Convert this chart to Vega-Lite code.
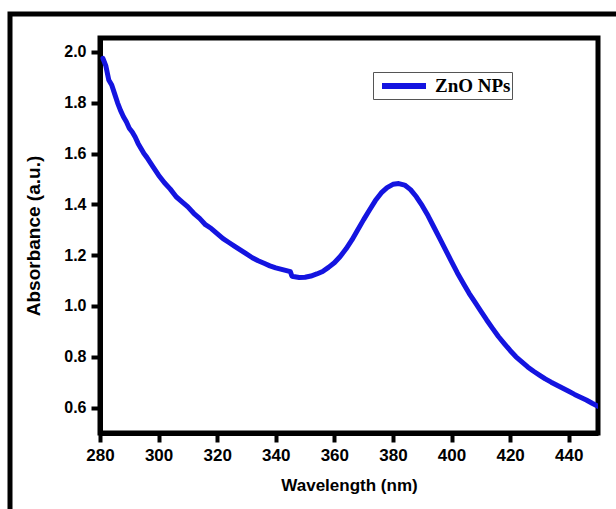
{
  "$schema": "https://vega.github.io/schema/vega-lite/v6.json",
  "autosize": "none",
  "width": 498,
  "height": 395,
  "padding": {"left": 100, "top": 38, "right": 18, "bottom": 76},
  "background": "white",
  "view": {"stroke": "black", "strokeWidth": 5, "fill": "white"},
  "config": {
    "view": {"stroke": "black", "strokeWidth": 5},
    "axis": {
      "grid": false,
      "domainColor": "black",
      "domainWidth": 5,
      "tickColor": "black",
      "tickWidth": 4,
      "tickSize": 9,
      "labelFlush": false,
      "labelFont": "Liberation Sans",
      "labelFontWeight": "bold",
      "labelFontSize": 16,
      "labelColor": "black",
      "titleFont": "Liberation Sans",
      "titleFontWeight": "bold",
      "titleFontSize": 17,
      "titleColor": "black"
    }
  },
  "layer": [
    {
      "data": {"values": [{"frame": "outer"}]},
      "mark": {"type": "rect", "fillOpacity": 0, "stroke": "black", "strokeWidth": 5, "clip": false},
      "encoding": {
        "x": {"value": -90},
        "x2": {"value": 540},
        "y": {"value": -24},
        "y2": {"value": 490}
      }
    },
    {
      "data": {
        "values": [
          {"s": "ZnO NPs", "wl": 281, "abs": 1.975}, {"s": "ZnO NPs", "wl": 282, "abs": 1.945}, {"s": "ZnO NPs", "wl": 283, "abs": 1.89},
          {"s": "ZnO NPs", "wl": 284, "abs": 1.87}, {"s": "ZnO NPs", "wl": 285, "abs": 1.835}, {"s": "ZnO NPs", "wl": 286, "abs": 1.8},
          {"s": "ZnO NPs", "wl": 287, "abs": 1.77}, {"s": "ZnO NPs", "wl": 288, "abs": 1.745}, {"s": "ZnO NPs", "wl": 289, "abs": 1.725},
          {"s": "ZnO NPs", "wl": 290, "abs": 1.7}, {"s": "ZnO NPs", "wl": 291, "abs": 1.685}, {"s": "ZnO NPs", "wl": 292, "abs": 1.665},
          {"s": "ZnO NPs", "wl": 293, "abs": 1.64}, {"s": "ZnO NPs", "wl": 294, "abs": 1.62}, {"s": "ZnO NPs", "wl": 295, "abs": 1.6},
          {"s": "ZnO NPs", "wl": 296, "abs": 1.585}, {"s": "ZnO NPs", "wl": 298, "abs": 1.55}, {"s": "ZnO NPs", "wl": 300, "abs": 1.515},
          {"s": "ZnO NPs", "wl": 302, "abs": 1.485}, {"s": "ZnO NPs", "wl": 304, "abs": 1.46}, {"s": "ZnO NPs", "wl": 306, "abs": 1.43},
          {"s": "ZnO NPs", "wl": 308, "abs": 1.41}, {"s": "ZnO NPs", "wl": 310, "abs": 1.39}, {"s": "ZnO NPs", "wl": 312, "abs": 1.365},
          {"s": "ZnO NPs", "wl": 314, "abs": 1.345}, {"s": "ZnO NPs", "wl": 316, "abs": 1.32}, {"s": "ZnO NPs", "wl": 318, "abs": 1.305},
          {"s": "ZnO NPs", "wl": 320, "abs": 1.285}, {"s": "ZnO NPs", "wl": 322, "abs": 1.265}, {"s": "ZnO NPs", "wl": 324, "abs": 1.25},
          {"s": "ZnO NPs", "wl": 326, "abs": 1.235}, {"s": "ZnO NPs", "wl": 328, "abs": 1.22}, {"s": "ZnO NPs", "wl": 330, "abs": 1.205},
          {"s": "ZnO NPs", "wl": 332, "abs": 1.19}, {"s": "ZnO NPs", "wl": 334, "abs": 1.178}, {"s": "ZnO NPs", "wl": 336, "abs": 1.168},
          {"s": "ZnO NPs", "wl": 338, "abs": 1.158}, {"s": "ZnO NPs", "wl": 340, "abs": 1.15}, {"s": "ZnO NPs", "wl": 342, "abs": 1.144},
          {"s": "ZnO NPs", "wl": 344, "abs": 1.138}, {"s": "ZnO NPs", "wl": 345, "abs": 1.135}, {"s": "ZnO NPs", "wl": 345.5, "abs": 1.118},
          {"s": "ZnO NPs", "wl": 346, "abs": 1.116}, {"s": "ZnO NPs", "wl": 348, "abs": 1.112}, {"s": "ZnO NPs", "wl": 350, "abs": 1.113},
          {"s": "ZnO NPs", "wl": 352, "abs": 1.118}, {"s": "ZnO NPs", "wl": 354, "abs": 1.126}, {"s": "ZnO NPs", "wl": 356, "abs": 1.136},
          {"s": "ZnO NPs", "wl": 358, "abs": 1.152}, {"s": "ZnO NPs", "wl": 360, "abs": 1.17}, {"s": "ZnO NPs", "wl": 362, "abs": 1.195},
          {"s": "ZnO NPs", "wl": 364, "abs": 1.225}, {"s": "ZnO NPs", "wl": 366, "abs": 1.26}, {"s": "ZnO NPs", "wl": 368, "abs": 1.3},
          {"s": "ZnO NPs", "wl": 370, "abs": 1.34}, {"s": "ZnO NPs", "wl": 372, "abs": 1.378}, {"s": "ZnO NPs", "wl": 374, "abs": 1.415},
          {"s": "ZnO NPs", "wl": 376, "abs": 1.445}, {"s": "ZnO NPs", "wl": 378, "abs": 1.466}, {"s": "ZnO NPs", "wl": 380, "abs": 1.479},
          {"s": "ZnO NPs", "wl": 382, "abs": 1.482}, {"s": "ZnO NPs", "wl": 384, "abs": 1.476}, {"s": "ZnO NPs", "wl": 386, "abs": 1.458},
          {"s": "ZnO NPs", "wl": 388, "abs": 1.43}, {"s": "ZnO NPs", "wl": 390, "abs": 1.395}, {"s": "ZnO NPs", "wl": 392, "abs": 1.355},
          {"s": "ZnO NPs", "wl": 394, "abs": 1.31}, {"s": "ZnO NPs", "wl": 396, "abs": 1.265}, {"s": "ZnO NPs", "wl": 398, "abs": 1.22},
          {"s": "ZnO NPs", "wl": 400, "abs": 1.175}, {"s": "ZnO NPs", "wl": 402, "abs": 1.13}, {"s": "ZnO NPs", "wl": 404, "abs": 1.09},
          {"s": "ZnO NPs", "wl": 406, "abs": 1.05}, {"s": "ZnO NPs", "wl": 408, "abs": 1.015}, {"s": "ZnO NPs", "wl": 410, "abs": 0.98},
          {"s": "ZnO NPs", "wl": 412, "abs": 0.945}, {"s": "ZnO NPs", "wl": 414, "abs": 0.912}, {"s": "ZnO NPs", "wl": 416, "abs": 0.88},
          {"s": "ZnO NPs", "wl": 418, "abs": 0.852}, {"s": "ZnO NPs", "wl": 420, "abs": 0.825}, {"s": "ZnO NPs", "wl": 422, "abs": 0.8},
          {"s": "ZnO NPs", "wl": 424, "abs": 0.78}, {"s": "ZnO NPs", "wl": 426, "abs": 0.76}, {"s": "ZnO NPs", "wl": 428, "abs": 0.743},
          {"s": "ZnO NPs", "wl": 430, "abs": 0.728}, {"s": "ZnO NPs", "wl": 432, "abs": 0.713}, {"s": "ZnO NPs", "wl": 434, "abs": 0.7},
          {"s": "ZnO NPs", "wl": 436, "abs": 0.688}, {"s": "ZnO NPs", "wl": 438, "abs": 0.676}, {"s": "ZnO NPs", "wl": 440, "abs": 0.664},
          {"s": "ZnO NPs", "wl": 442, "abs": 0.652}, {"s": "ZnO NPs", "wl": 444, "abs": 0.641}, {"s": "ZnO NPs", "wl": 446, "abs": 0.63},
          {"s": "ZnO NPs", "wl": 448, "abs": 0.617}, {"s": "ZnO NPs", "wl": 450, "abs": 0.605}
        ]
      },
      "mark": {"type": "line", "strokeWidth": 5, "strokeCap": "round", "strokeJoin": "round", "clip": true},
      "encoding": {
        "x": {
          "field": "wl", "type": "quantitative",
          "scale": {"domain": [280, 450], "nice": false, "zero": false},
          "axis": {"values": [280, 300, 320, 340, 360, 380, 400, 420, 440], "title": "Wavelength (nm)", "labelFontSize": 17, "labelPadding": 5, "titlePadding": 14, "labelFlush": false, "domainWidth": 5, "tickWidth": 4}
        },
        "y": {
          "field": "abs", "type": "quantitative",
          "scale": {"domain": [0.5, 2.055], "nice": false, "zero": false},
          "axis": {"values": [0.6, 0.8, 1.0, 1.2, 1.4, 1.6, 1.8, 2.0], "format": ".1f", "title": "Absorbance (a.u.)", "titleFontSize": 19, "labelPadding": 5, "titlePadding": 20, "labelFlush": false, "domainWidth": 5, "tickWidth": 4}
        },
        "color": {
          "field": "s",
          "type": "nominal",
          "scale": {"range": ["#1414e0"]},
          "legend": {
            "title": null,
            "orient": "none",
            "legendX": 273,
            "legendY": 34,
            "symbolType": "M-2.2,0L2.2,0",
            "symbolSize": 400,
            "symbolStrokeWidth": 6,
            "symbolOffset": 17,
            "labelFont": "Liberation Serif",
            "labelFontWeight": "bold",
            "labelFontSize": 19,
            "labelColor": "black",
            "labelOffset": 18,
            "padding": 1,
            "strokeColor": "#555555",
            "fillColor": "white"
          }
        }
      }
    }
  ]
}
